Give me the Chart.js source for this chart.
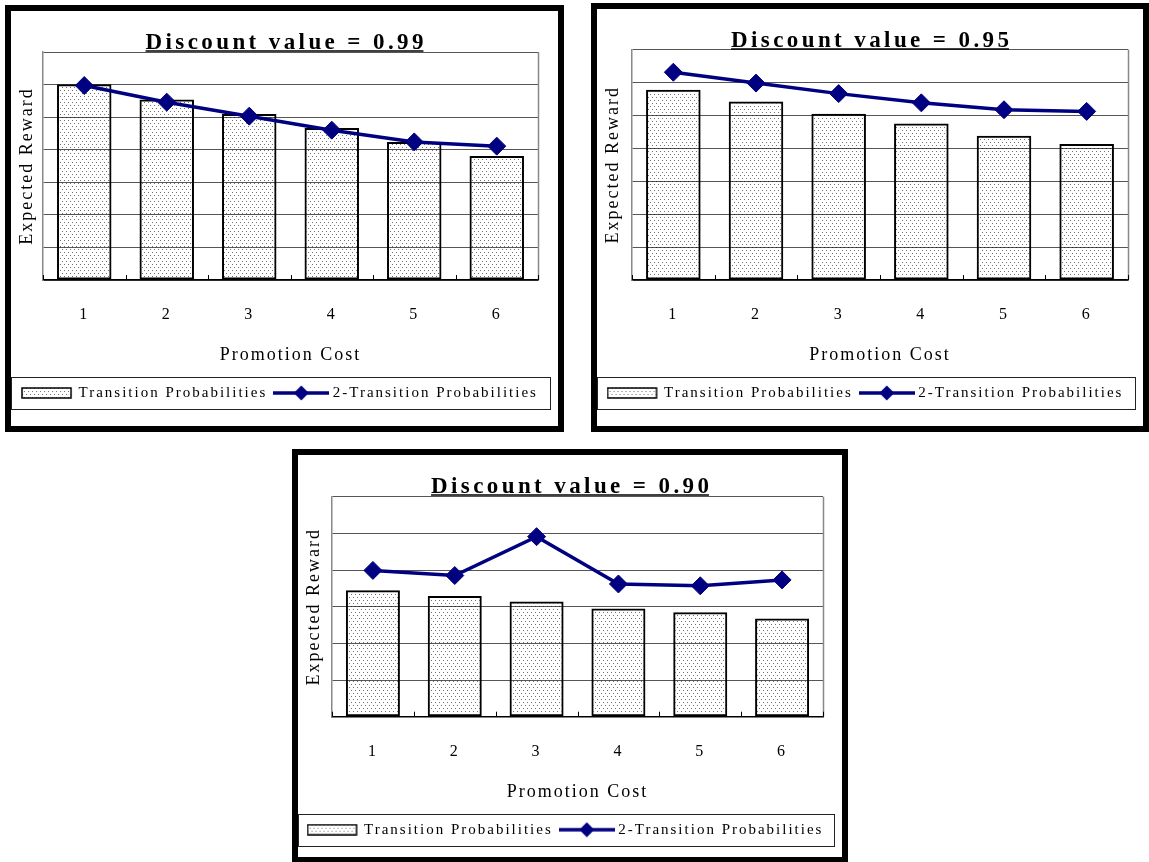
<!DOCTYPE html>
<html>
<head>
<meta charset="utf-8">
<script src="https://cdn.jsdelivr.net/npm/chart.js@4/dist/chart.umd.min.js"></script>
<style>
  html, body { margin: 0; padding: 0; background: #fff; width: 1149px; height: 862px; overflow: hidden; position: relative; }
  .panel { position: absolute; box-sizing: border-box; border: 6px solid #000; background: #fff; }
  .panel canvas { display: block; }
  #p1 { left: 5px;   top: 5px;   width: 559px; height: 427px; }
  #p2 { left: 591px; top: 3px;   width: 558px; height: 429px; }
  #p3 { left: 292px; top: 449px; width: 556px; height: 414px; }
</style>
</head>
<body>
<div class="panel" id="p1"><canvas id="c1" width="547" height="415"></canvas></div>
<div class="panel" id="p2"><canvas id="c2" width="546" height="417"></canvas></div>
<div class="panel" id="p3"><canvas id="c3" width="544" height="402"></canvas></div>

<script>
// ---- data ----
const costLabels = ['1', '2', '3', '4', '5', '6'];
const seriesNames = ['Transition Probabilities', '2-Transition Probabilities'];
const xTitle = 'Promotion Cost';
const yTitle = 'Expected Reward';

const titles = ['Discount value = 0.99', 'Discount value = 0.95', 'Discount value = 0.90'];

// Expected reward (axis units) per promotion cost
const tp099  = [6.01, 5.54, 5.10, 4.67, 4.24, 3.81];
const tp2099 = [5.97, 5.46, 5.03, 4.60, 4.24, 4.11];

const tp095  = [5.78, 5.42, 5.05, 4.75, 4.38, 4.13];
const tp2095 = [6.31, 5.98, 5.66, 5.38, 5.17, 5.12];

const tp090  = [3.45, 3.29, 3.14, 2.95, 2.85, 2.68];
const tp2090 = [3.99, 3.85, 4.91, 3.62, 3.57, 3.73];

const yMax = [7, 7, 6];

// ---- panel geometry (canvas pixels) ----
const panels = [
  { id: 'c1', title: titles[0], bars: tp099, line: tp2099, max: yMax[0], plotLeft: 32, plotTop: 41,   padRight: 20, padBottom: 15.5 },
  { id: 'c2', title: titles[1], bars: tp095, line: tp2095, max: yMax[1], plotLeft: 35, plotTop: 40.5, padRight: 15, padBottom: 15.5 },
  { id: 'c3', title: titles[2], bars: tp090, line: tp2090, max: yMax[2], plotLeft: 34, plotTop: 41.7, padRight: 19, padBottom: 9.8 }
];

const NAVY = '#000080';
const SPACING = '2px';
const LEGEND_PAD = 10;
const LEGEND_FONT = 15;
const LEGEND_INSET = 8;   // legend frame stops short of the panel's right edge

Chart.defaults.font.family = "'Liberation Serif', 'DejaVu Serif', serif";
Chart.defaults.color = '#000';

// dotted fill used by the bars
function makeDots() {
  const t = document.createElement('canvas');
  t.width = 4; t.height = 6;
  const g = t.getContext('2d');
  g.fillStyle = 'rgba(0,0,0,0.55)';
  g.fillRect(1, 1, 1, 1);
  g.fillRect(3, 4, 1, 1);
  return t;
}
const dotTile = makeDots();

// legend swatches
function barSwatch() {
  const c = document.createElement('canvas');
  c.width = 52; c.height = 12;
  const g = c.getContext('2d');
  g.fillStyle = g.createPattern(dotTile, 'repeat');
  g.fillRect(1, 1, 49, 10);
  g.strokeStyle = '#000'; g.lineWidth = 1.5;
  g.strokeRect(1, 1, 49, 10);
  return c;
}
function lineSwatch() {
  const c = document.createElement('canvas');
  c.width = 56; c.height = 16;
  const g = c.getContext('2d');
  g.strokeStyle = NAVY; g.lineWidth = 3.5;
  g.beginPath(); g.moveTo(0, 8); g.lineTo(56, 8); g.stroke();
  g.fillStyle = NAVY;
  g.beginPath(); g.moveTo(28 - 7.5, 8); g.lineTo(28, 0.5); g.lineTo(28 + 7.5, 8); g.lineTo(28, 15.5); g.closePath(); g.fill();
  return c;
}
const swatches = [barSwatch(), lineSwatch()];

// letter spacing for all chart text
const spacingPlugin = {
  id: 'spacing',
  beforeLayout(chart) { chart.ctx.letterSpacing = SPACING; },
  beforeDraw(chart) { chart.ctx.letterSpacing = SPACING; }
};

// right frame edge and inside tick marks between categories
const framePlugin = {
  id: 'plotFrame',
  beforeDatasetsDraw(chart) {
    const { ctx, chartArea: a, scales: { x } } = chart;
    ctx.save();
    ctx.strokeStyle = '#888';
    ctx.lineWidth = 1.5;
    const rx = Math.round(a.right) + 0.5;
    ctx.beginPath(); ctx.moveTo(rx, a.top); ctx.lineTo(rx, a.bottom); ctx.stroke();
    ctx.strokeStyle = '#000';
    ctx.lineWidth = 1;
    ctx.beginPath();
    for (let i = 0; i <= x.ticks.length; i++) {
      const px = Math.round(x.getPixelForValue(i - 0.5)) + 0.5;
      ctx.moveTo(px, a.bottom);
      ctx.lineTo(px, a.bottom - 5);
    }
    ctx.stroke();
    ctx.restore();
  }
};

// box round the legend
const legendBoxPlugin = {
  id: 'legendBox',
  afterDraw(chart) {
    const lg = chart.legend;
    if (!lg) return;
    const { ctx } = chart;
    const cy = lg.top + LEGEND_PAD + LEGEND_FONT / 2;
    ctx.save();
    ctx.strokeStyle = '#222';
    ctx.lineWidth = 1;
    ctx.strokeRect(0.5, Math.round(cy - 16) + 0.5, Math.round(chart.width - LEGEND_INSET - 0.5), 32);
    ctx.restore();
  }
};

// bold, spaced, underlined heading
function headingPlugin(text) {
  return {
    id: 'heading',
    afterDraw(chart) {
      const { ctx } = chart;
      const sp = 3.4;
      ctx.save();
      ctx.font = "bold 23px 'Liberation Serif', 'DejaVu Serif', serif";
      ctx.letterSpacing = sp + 'px';
      ctx.fillStyle = '#000';
      ctx.textAlign = 'left';
      ctx.textBaseline = 'alphabetic';
      const w = ctx.measureText(text).width - sp;
      const x0 = chart.width / 2 - w / 2;
      const base = 37.5;
      ctx.fillText(text, x0, base);
      ctx.strokeStyle = '#000';
      ctx.lineWidth = 1.5;
      ctx.beginPath();
      ctx.moveTo(x0, base + 2.5);
      ctx.lineTo(x0 + w, base + 2.5);
      ctx.stroke();
      ctx.restore();
    }
  };
}

panels.forEach(p => {
  const ctx = document.getElementById(p.id).getContext('2d');
  const dots = ctx.createPattern(dotTile, 'repeat');
  new Chart(ctx, {
    type: 'bar',
    data: {
      labels: costLabels,
      datasets: [
        {
          type: 'bar',
          label: seriesNames[0],
          data: p.bars,
          backgroundColor: dots,
          borderColor: '#000',
          borderWidth: 2,
          borderSkipped: false,
          barPercentage: 0.66,
          categoryPercentage: 1,
          order: 1
        },
        {
          type: 'line',
          label: seriesNames[1],
          data: p.line,
          borderColor: NAVY,
          borderWidth: 3.5,
          tension: 0,
          fill: false,
          pointStyle: 'rectRot',
          pointRadius: 9,
          pointBackgroundColor: NAVY,
          pointBorderColor: NAVY,
          pointBorderWidth: 1,
          order: 0
        }
      ]
    },
    options: {
      responsive: false,
      animation: false,
      devicePixelRatio: 1,
      events: [],
      layout: { padding: { top: p.plotTop, left: 0, right: LEGEND_INSET, bottom: p.padBottom } },
      scales: {
        x: {
          type: 'category',
          offset: true,
          grid: { display: false, drawTicks: false },
          border: { display: true, color: '#000', width: 1.5 },
          ticks: { padding: 25, font: { size: 16 }, color: '#000', maxRotation: 0, autoSkip: false },
          title: { display: true, text: xTitle, font: { size: 18 }, color: '#000', padding: { top: 0, bottom: 9 } },
          afterFit(scale) { scale.height = 95.5; }
        },
        y: {
          min: 0,
          max: p.max,
          ticks: { display: false, stepSize: 1 },
          grid: { color: '#555', lineWidth: 1, drawTicks: false },
          border: { display: true, color: '#888', width: 1.5 },
          title: { display: true, text: yTitle, font: { size: 18 }, color: '#000', padding: { top: 5, bottom: 0 } },
          afterFit(scale) { scale.width = p.plotLeft; }
        },
        // blank margin on the right of the plot
        gap: {
          type: 'linear',
          position: 'right',
          display: true,
          ticks: { display: false },
          grid: { display: false, drawTicks: false },
          border: { display: false },
          afterFit(scale) { scale.width = p.padRight - LEGEND_INSET; }
        }
      },
      plugins: {
        title: { display: false },
        tooltip: { enabled: false },
        legend: {
          display: true,
          position: 'bottom',
          labels: {
            usePointStyle: true,
            pointStyleWidth: 48,
            boxWidth: 48,
            boxHeight: LEGEND_FONT,
            padding: LEGEND_PAD,
            color: '#000',
            font: { size: LEGEND_FONT },
            generateLabels(chart) {
              return chart.data.datasets.map((ds, i) => ({
                text: ds.label,
                pointStyle: swatches[i],
                fillStyle: 'rgba(0,0,0,0)',
                strokeStyle: 'rgba(0,0,0,0)',
                lineWidth: 0,
                hidden: false,
                datasetIndex: i,
                fontColor: '#000'
              }));
            }
          }
        }
      }
    },
    plugins: [spacingPlugin, framePlugin, legendBoxPlugin, headingPlugin(p.title)]
  });
});
</script>
</body>
</html>
